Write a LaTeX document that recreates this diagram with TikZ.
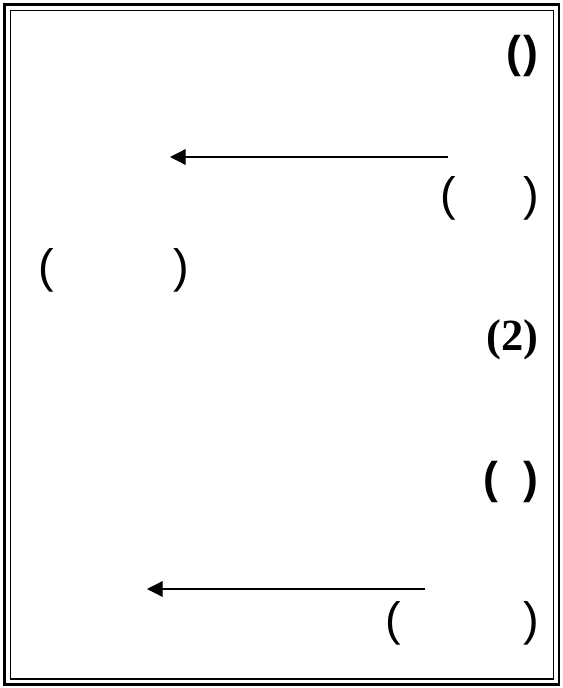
\documentclass[tikz,border=0pt]{standalone}
\usepackage{fontspec}
\setmainfont{Liberation Serif}
\newfontfamily\parfont{Liberation Sans}
\usetikzlibrary{arrows.meta}
\tikzset{
	lbl/.style={inner sep=0pt, anchor=east, font=\parfont\fontsize{40}{44}\selectfont},
	lbls/.style={lbl, font=\parfont\fontsize{38}{42}\selectfont\bfseries},
	lblb/.style={lbl, font=\fontsize{38}{42}\selectfont\bfseries},
	arr/.style={-{Triangle[length=0.47cm,width=0.47cm]}, line width=1.1pt}
}
\begin{document}
\begin{tikzpicture}[x=0.03cm,y=-0.03cm]
		\useasboundingbox (0,0) rectangle (563,688);
		\draw[line width=2.4pt] (4.5,4.5) rectangle (559,684.5);
		\draw[line width=1.4pt] (10.5,10.5) rectangle (553.5,679);
		\node[lbls] (t1) at (539,56) {(\hspace{0.08cm})};
		\coordinate (a1s) at (448,157);
		\coordinate (a1e) at (170,157);
		\draw[arr] (a1s) -- (a1e);
		\node[lbl] (t2) at (539,198) {(\hspace{2.0cm})};
		\node[lbl, anchor=west] (t3) at (38,270) {(\hspace{3.6cm})};
		\node[lblb] (t4) at (539,340) {(2)};
		\node[lbls] (t5) at (539,482) {(\hspace{0.78cm})};
		\coordinate (a2s) at (425,589);
		\coordinate (a2e) at (147,589);
		\draw[arr] (a2s) -- (a2e);
		\node[lbl] (t6) at (539,623) {(\hspace{3.66cm})};
	%
	\end{tikzpicture}
\end{document}
